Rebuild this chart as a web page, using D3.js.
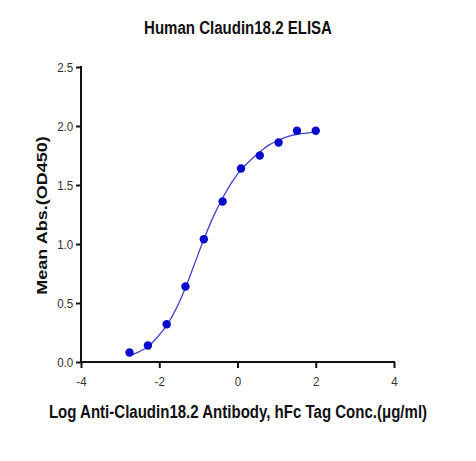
<!DOCTYPE html>
<html lang="en">
<head>
<meta charset="utf-8">
<title>Human Claudin18.2 ELISA</title>
<style>
  body { margin:0; background:white; }
  .tick text { font:13.5px "Liberation Sans", Arial, sans-serif; fill:#333; }
  .title, .label { font:bold 18px "Liberation Sans", Arial, sans-serif; fill:#111; }
</style>
</head>
<body>
<svg class="chart"></svg>
<script src="https://cdnjs.cloudflare.com/ajax/libs/d3/7.8.5/d3.min.js"></script>
<script>
// measured points (log conc, OD450)
var logConc = [-2.76, -2.29, -1.81, -1.33, -0.86, -0.38, 0.09, 0.57, 1.05, 1.52, 2.00];
var meanAbs = [0.08, 0.14, 0.32, 0.64, 1.04, 1.36, 1.64, 1.75, 1.86, 1.96, 1.96];

// fitted curve
var fitX = [-2.76, -2.5, -2.29, -2.05, -1.81, -1.57, -1.33, -1.1, -0.86, -0.62, -0.38, -0.15, 0.09, 0.33, 0.57, 0.81, 1.05, 1.28, 1.52, 1.76, 2.00];
var fitY = [0.05, 0.09, 0.13, 0.21, 0.31, 0.45, 0.63, 0.83, 1.04, 1.23, 1.39, 1.52, 1.63, 1.71, 1.78, 1.84, 1.88, 1.91, 1.93, 1.94, 1.95];

var xTicks = [-4, -2, 0, 2, 4];
var yTicks = [0.0, 0.5, 1.0, 1.5, 2.0, 2.5];

var W = 476, H = 461;
var margin = {top:67, left:81, right:82, bottom:99};
var squeeze = 0.835; // the text in the picture is narrowed

var svg = d3.select('.chart').attr('width', W).attr('height', H);

var x = d3.scaleLinear().domain([-4, 4]).range([margin.left, W - margin.right]);
var y = d3.scaleLinear().domain([0, 2.5]).range([H - margin.bottom, margin.top]);

//axes
var xAxis = svg.append('g')
  .attr('transform', 'translate(0,' + (H - margin.bottom) + ')')
  .call(d3.axisBottom(x).tickValues(xTicks).tickSize(6).tickPadding(8).tickFormat(d3.format('d')));
var yAxis = svg.append('g')
  .attr('transform', 'translate(' + margin.left + ',0)')
  .call(d3.axisLeft(y).tickValues(yTicks).tickSize(5).tickPadding(4).tickFormat(d3.format('.1f')));

[xAxis, yAxis].forEach(function(a){
  a.select('.domain').attr('stroke', '#111').attr('stroke-width', 2);
  a.selectAll('.tick line').attr('stroke', '#111').attr('stroke-width', 2);
  a.selectAll('.tick text').attr('transform', 'scale(0.86,1)');
});
xAxis.selectAll('.tick text').text(function(d){ return d < 0 ? '-' + Math.abs(d) : d; });
yAxis.selectAll('.tick text').attr('dy', '0.36em');
xAxis.select('.domain').attr('d', 'M' + (x(-4) - 1) + ',0H' + (x(4) + 1));
yAxis.select('.domain').attr('d', 'M0,' + (y(2.5) - 1) + 'V' + (y(0) + 1));

//fit line
var fit = fitX.map(function(d, i){ return [d, fitY[i]]; });
svg.append('path')
  .datum(fit)
  .attr('fill', 'none')
  .attr('stroke', '#4444cc')
  .attr('stroke-width', 1.3)
  .attr('d', d3.line().x(function(d){ return x(d[0]); }).y(function(d){ return y(d[1]); }).curve(d3.curveCatmullRom));

//points
svg.selectAll('circle.pt')
  .data(logConc)
  .enter().append('circle')
  .attr('class', 'pt')
  .attr('cx', function(d){ return x(d); })
  .attr('cy', function(d, i){ return y(meanAbs[i]); })
  .attr('r', 4.2)
  .attr('fill', '#0a0acc');

//text
svg.append('text').attr('class', 'title')
  .attr('transform', 'translate(238,34) scale(' + squeeze + ',1)')
  .attr('text-anchor', 'middle')
  .text('Human Claudin18.2 ELISA');
svg.append('text').attr('class', 'label')
  .attr('transform', 'translate(238,418) scale(' + squeeze + ',1)')
  .attr('text-anchor', 'middle')
  .text('Log Anti-Claudin18.2 Antibody, hFc Tag Conc.(\u03bcg/ml)');
svg.append('text').attr('class', 'label')
  .attr('transform', 'translate(47,' + ((y(0) + y(2.5)) / 2 + 1) + ') scale(' + squeeze + ',1) rotate(-90)')
  .attr('text-anchor', 'middle')
  .text('Mean Abs.(OD450)');
</script>
</body>
</html>
